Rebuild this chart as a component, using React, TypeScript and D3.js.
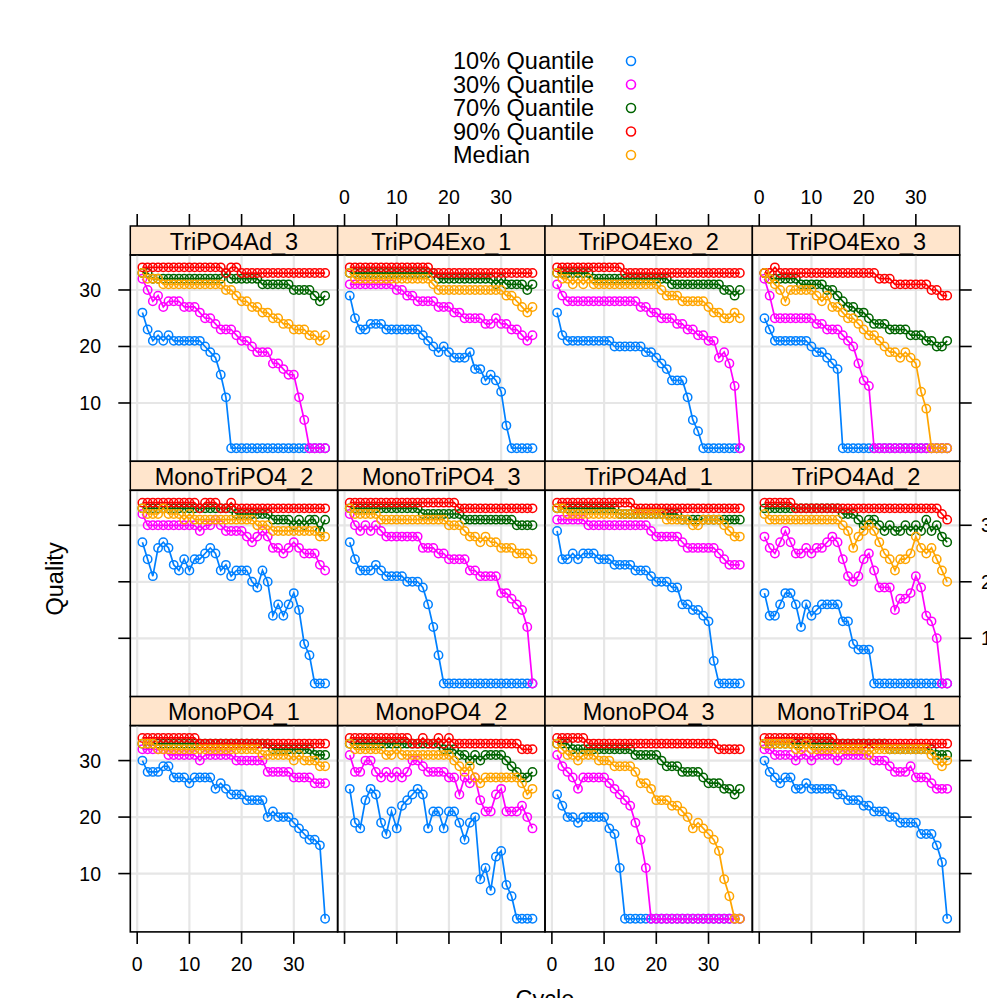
import React from "react";
import * as d3 from "d3";

// lattice xyplot: Quality by Cycle, one panel per sample, 5 quantile series each

const seriesNames = ["10% Quantile", "30% Quantile", "70% Quantile", "90% Quantile", "Median"];
const seriesColors = ["#0080ff", "#ff00ff", "darkgreen", "#ff0000", "orange"];
const xTicks = [0, 10, 20, 30];
const yTicks = [10, 20, 30];

// panels in display order (row by row, top to bottom)
const panelNames = [
  "TriPO4Ad_3", "TriPO4Exo_1", "TriPO4Exo_2", "TriPO4Exo_3",
  "MonoTriPO4_2", "MonoTriPO4_3", "TriPO4Ad_1", "TriPO4Ad_2",
  "MonoPO4_1", "MonoPO4_2", "MonoPO4_3", "MonoTriPO4_1",
];

// each panel: [q10, q30, q70, q90, median], values for cycles 1..36
const TriPO4Ad_3 = [
  [26,23,21,22,21,22,21,21,21,21,21,21,20,19,18,15,11,2,2,2,2,2,2,2,2,2,2,2,2,2,2,2,2,2,2,2],
  [32,30,28,29,27,28,28,28,27,27,27,26,25,25,24,23,23,23,22,21,21,20,19,19,19,17,17,16,15,15,11,7,2,2,2,2],
  [33,33,32,32,32,32,32,32,32,32,32,32,32,32,32,32,33,32,32,32,32,32,32,31,31,31,31,31,31,30,30,30,30,29,28,29],
  [34,34,34,34,34,34,34,34,34,34,34,34,34,34,34,34,33,34,34,33,33,33,33,33,33,33,33,33,33,33,33,33,33,33,33,33],
  [33,32,32,32,31,31,31,31,31,31,31,31,31,31,31,31,30,30,29,28,28,27,27,26,26,25,25,24,24,23,23,23,22,22,21,22],
];
const TriPO4Exo_1 = [
  [29,25,23,23,24,24,24,23,23,23,23,23,23,23,22,21,20,19,20,19,18,18,18,19,16,16,14,15,14,12,6,2,2,2,2,2],
  [31,31,31,31,31,31,31,31,31,30,30,29,29,28,28,28,28,27,27,27,26,26,25,25,25,25,24,24,25,24,24,23,23,22,21,22],
  [33,33,33,33,33,33,33,33,33,33,33,33,33,33,33,33,33,32,32,32,32,32,32,32,32,32,32,32,31,32,31,31,31,31,30,31],
  [34,34,34,34,34,34,34,34,34,34,34,34,34,34,34,34,33,33,33,33,33,33,33,33,33,33,33,33,33,33,33,33,33,33,33,33],
  [33,32,32,32,32,32,32,32,32,32,32,32,32,32,32,32,31,30,30,30,30,30,30,30,30,30,30,30,30,30,29,29,28,27,26,27],
];
const TriPO4Exo_2 = [
  [26,22,21,21,21,21,21,21,21,21,21,20,20,20,20,20,20,19,19,18,17,16,14,14,14,11,7,5,2,2,2,2,2,2,2,2],
  [31,29,28,28,28,28,28,28,28,28,28,28,28,28,28,28,27,27,26,26,25,25,25,24,24,23,23,22,22,21,21,18,19,17,13,2],
  [33,33,33,33,33,33,33,32,32,32,32,32,32,32,32,32,32,32,32,32,32,32,31,31,31,31,31,31,31,31,31,31,30,30,29,30],
  [34,34,34,34,34,34,34,34,34,34,34,34,34,33,33,33,33,33,33,33,33,33,33,33,33,33,33,33,33,33,33,33,33,33,33,33],
  [33,32,32,31,32,31,32,31,31,31,31,31,31,31,31,31,31,31,31,31,30,29,29,29,28,28,28,28,28,27,26,26,25,25,26,25],
];
const TriPO4Exo_3 = [
  [25,23,21,21,21,21,21,21,21,20,19,19,18,17,16,2,2,2,2,2,2,2,2,2,2,2,2,2,2,2,2,2,2,2,2,2],
  [32,29,25,25,25,25,25,25,25,25,24,24,23,23,23,22,21,20,17,14,13,2,2,2,2,2,2,2,2,2,2,2,2,2,2,2],
  [33,32,32,32,32,32,32,31,31,31,31,31,30,30,29,28,27,27,26,26,25,24,24,24,23,23,23,23,22,22,22,21,21,20,20,21],
  [33,33,34,33,33,33,33,33,33,33,33,33,33,33,33,33,33,33,33,33,33,33,32,32,32,31,31,31,31,31,31,31,30,30,29,29],
  [33,32,31,30,28,30,30,30,30,30,29,28,29,27,27,26,25,25,24,23,22,22,21,20,19,19,18,19,18,17,12,9,2,2,2,2],
];
const MonoTriPO4_2 = [
  [27,24,21,26,27,26,23,22,24,22,24,24,25,26,25,22,23,21,22,22,22,20,19,22,20,14,16,14,16,18,15,9,7,2,2,2],
  [32,30,30,30,30,30,30,30,30,30,30,29,30,30,31,30,29,29,29,29,28,27,28,29,28,26,26,25,26,27,26,25,25,25,23,22],
  [33,33,33,33,33,33,33,33,33,33,33,33,33,33,33,33,33,33,32,32,32,32,32,32,32,31,31,31,31,30,31,30,31,31,29,31],
  [34,34,34,34,34,34,34,34,34,34,34,33,34,34,34,33,33,34,33,33,33,33,33,33,33,33,33,33,33,33,33,33,33,33,33,33],
  [33,32,32,32,33,32,32,32,31,32,31,31,31,31,31,31,31,31,31,31,31,31,30,30,30,29,29,29,29,29,29,29,29,29,28,28],
];
const MonoTriPO4_3 = [
  [27,24,22,22,22,23,22,21,21,21,21,20,20,20,19,16,12,7,2,2,2,2,2,2,2,2,2,2,2,2,2,2,2,2,2,2],
  [32,30,29,30,29,30,29,28,28,28,28,28,28,28,26,26,26,25,25,24,24,24,24,22,22,21,21,21,21,18,18,17,16,15,12,2],
  [33,33,33,33,33,33,33,33,33,33,33,33,33,33,32,32,32,32,32,32,32,32,31,31,31,31,31,31,31,31,31,31,30,30,30,30],
  [34,34,34,34,34,34,34,34,34,34,34,34,34,34,34,34,34,34,34,34,34,33,33,33,33,33,33,33,33,33,33,33,33,33,33,33],
  [33,32,32,32,32,32,31,31,31,31,31,31,31,31,31,31,31,31,31,30,30,30,29,28,28,27,28,27,27,26,26,26,25,25,25,24],
];
const TriPO4Ad_1 = [
  [29,24,24,25,24,25,25,25,24,24,24,23,23,23,23,22,22,22,21,20,20,20,19,19,16,16,15,15,14,13,6,2,2,2,2,2],
  [31,31,31,31,31,31,30,30,30,30,30,30,30,30,30,30,30,30,29,28,28,28,28,28,27,26,26,26,26,26,26,25,24,23,23,23],
  [33,33,33,33,33,33,33,33,33,33,33,33,32,32,32,32,32,32,32,32,32,32,32,32,31,31,31,31,31,31,31,31,31,31,31,31],
  [34,34,34,34,34,34,34,34,34,34,34,34,34,34,34,33,33,33,33,33,33,33,33,33,33,33,33,33,33,33,33,33,33,33,33,33],
  [33,33,32,32,32,32,32,32,32,32,32,32,32,32,32,32,32,32,32,32,32,31,31,31,31,31,30,30,31,31,31,31,30,29,28,28],
];
const TriPO4Ad_2 = [
  [18,14,14,16,18,18,16,12,16,14,15,16,16,16,16,13,13,9,8,8,8,2,2,2,2,2,2,2,2,2,2,2,2,2,2,2],
  [28,26,25,27,29,27,25,25,26,25,26,26,27,28,27,24,21,20,21,24,25,22,19,19,19,15,17,17,18,21,19,14,13,10,2,2],
  [33,33,33,33,33,33,33,33,33,33,33,33,33,33,33,32,32,32,31,30,31,31,30,29,30,29,29,30,29,30,29,31,29,30,28,27],
  [34,34,34,34,34,34,33,33,33,33,33,33,33,33,33,33,33,33,33,33,33,33,33,33,33,33,33,33,33,33,33,33,33,33,32,31],
  [32,31,31,31,31,31,31,31,31,31,31,31,31,31,31,30,29,26,28,29,30,29,27,25,24,22,24,24,25,28,26,25,26,24,22,20],
];
const MonoPO4_1 = [
  [30,28,28,28,29,29,27,27,27,26,27,27,27,27,25,26,25,24,24,24,23,23,23,23,20,21,20,20,20,19,18,17,16,16,15,2],
  [32,32,32,32,32,31,31,31,31,31,31,30,31,31,31,31,31,31,30,30,30,30,30,30,28,28,28,28,28,27,27,27,27,26,26,26],
  [33,33,33,33,33,33,33,33,33,33,33,33,33,33,33,33,33,33,33,33,33,33,33,33,33,32,32,32,32,32,32,32,32,31,31,31],
  [34,34,34,34,34,34,34,34,34,34,34,33,33,33,33,33,33,33,33,33,33,33,33,33,33,33,33,33,33,33,33,33,33,33,33,33],
  [33,33,33,32,32,32,32,32,32,32,32,32,32,32,32,32,32,32,32,32,32,32,32,31,31,31,31,31,31,30,31,30,30,30,29,29],
];
const MonoPO4_2 = [
  [25,19,18,23,25,24,19,17,21,18,22,23,24,25,24,18,21,21,18,21,21,19,16,19,20,9,11,7,13,14,8,6,2,2,2,2],
  [31,28,28,30,30,28,27,28,27,28,27,28,30,30,29,28,28,28,28,27,27,24,27,26,27,23,21,21,24,25,21,21,21,22,20,18],
  [33,33,33,33,33,33,33,33,33,33,33,33,33,33,33,33,33,33,32,32,32,31,31,30,31,30,31,31,31,31,30,29,28,27,27,28],
  [34,34,34,34,34,34,34,34,34,34,34,34,33,33,34,33,33,34,33,34,33,33,33,33,33,33,33,33,33,33,33,33,33,32,32,32],
  [33,32,32,32,32,32,32,31,31,32,31,31,31,31,31,31,31,31,31,31,30,29,28,29,27,26,27,27,27,27,27,27,27,26,24,25],
];
const MonoPO4_3 = [
  [24,22,20,20,19,20,20,20,20,20,18,17,11,2,2,2,2,2,2,2,2,2,2,2,2,2,2,2,2,2,2,2,2,2,2,2],
  [31,29,28,27,25,27,27,27,27,27,26,25,24,23,22,19,16,11,2,2,2,2,2,2,2,2,2,2,2,2,2,2,2,2,2,2],
  [33,33,33,32,32,32,32,32,32,32,32,32,32,32,32,31,31,31,31,31,30,29,29,29,28,28,28,28,27,26,26,26,25,25,24,25],
  [34,34,34,34,34,34,33,33,33,33,33,33,33,33,33,33,33,33,33,33,33,33,33,33,33,33,33,33,33,33,33,32,32,32,32,32],
  [33,32,31,31,30,31,31,31,30,30,30,29,29,29,29,28,26,26,25,23,23,23,22,22,21,20,18,19,18,17,16,14,9,6,2,2],
];
const MonoTriPO4_1 = [
  [30,28,27,26,27,27,25,25,26,25,25,25,25,25,24,24,23,23,23,22,22,21,21,21,20,20,19,19,19,19,17,17,17,15,12,2],
  [32,32,31,31,31,31,30,31,31,30,31,31,31,31,30,31,31,31,31,31,31,30,30,30,29,28,28,28,29,27,27,27,26,25,25,25],
  [33,33,33,33,33,33,33,33,33,33,33,33,33,33,33,33,33,33,33,33,33,33,33,33,32,32,32,32,32,32,32,32,32,31,31,31],
  [34,34,34,34,34,34,34,34,34,34,34,34,34,34,33,33,33,33,33,33,33,33,33,33,33,33,33,33,33,33,33,33,33,33,33,33],
  [33,33,33,33,33,33,32,32,33,32,32,32,32,32,32,32,32,32,32,32,31,32,32,32,32,32,32,32,32,32,32,32,31,30,29,30],
];

const panelData = [
  TriPO4Ad_3, TriPO4Exo_1, TriPO4Exo_2, TriPO4Exo_3,
  MonoTriPO4_2, MonoTriPO4_3, TriPO4Ad_1, TriPO4Ad_2,
  MonoPO4_1, MonoPO4_2, MonoPO4_3, MonoTriPO4_1,
];

const W = 987;
const H = 998;
const font = "'Liberation Sans', Arial, Helvetica, sans-serif";

const left = 130.3;
const right = 959.7;
const top0 = 226;
const stripH = 29;
const panelH = 206.3;
const rowStep = stripH + panelH;
const ncol = 4;
const nrow = 3;

const col = d3.scaleBand<number>().domain(d3.range(ncol)).range([left, right]);
const panelW = col.bandwidth();

const x = d3.scaleLinear().domain([-1.32, 38.4]).range([0, panelW]);
const y = d3.scaleLinear().domain([-0.32, 36.19]).range([panelH, 0]);

const line = d3
  .line<number>()
  .x((_, i) => x(i + 1))
  .y((d) => y(d));

function Panel({ idx }: { idx: number }) {
  const c = idx % ncol;
  const r = Math.floor(idx / ncol);
  const px = col(c) as number;
  const stripTop = top0 + r * rowStep;
  const py = stripTop + stripH;
  const series = panelData[idx];
  return (
    <g>
      <rect x={px} y={stripTop} width={panelW} height={stripH} fill="#ffe5cc" stroke="#000" strokeWidth={1.5} />
      <text
        x={px + panelW / 2}
        y={stripTop + stripH / 2 + 1}
        textAnchor="middle"
        dominantBaseline="central"
        fontSize={23.5}
        fontFamily={font}
      >
        {panelNames[idx]}
      </text>
      <g transform={`translate(${px},${py})`}>
        {xTicks.map((t) => (
          <line key={"gx" + t} x1={x(t)} x2={x(t)} y1={0} y2={panelH} stroke="#e6e6e6" strokeWidth={2.2} />
        ))}
        {yTicks.map((t) => (
          <line key={"gy" + t} x1={0} x2={panelW} y1={y(t)} y2={y(t)} stroke="#e6e6e6" strokeWidth={2.2} />
        ))}
        {series.map((vals, s) => (
          <g key={s}>
            <path d={line(vals) || ""} fill="none" stroke={seriesColors[s]} strokeWidth={1.7} />
            {vals.map((v, i) => (
              <circle key={i} cx={x(i + 1)} cy={y(v)} r={4.2} fill="none" stroke={seriesColors[s]} strokeWidth={1.5} />
            ))}
          </g>
        ))}
        <rect x={0} y={0} width={panelW} height={panelH} fill="none" stroke="#000" strokeWidth={1.6} />
      </g>
    </g>
  );
}

function Axes() {
  const els: React.ReactNode[] = [];
  const bottom = top0 + nrow * rowStep;
  for (let c = 0; c < ncol; c++) {
    const px = col(c) as number;
    xTicks.forEach((t) => {
      const tx = px + x(t);
      els.push(<line key={`tt${c}-${t}`} x1={tx} x2={tx} y1={top0} y2={top0 - 12} stroke="#000" strokeWidth={1.6} />);
      els.push(<line key={`bt${c}-${t}`} x1={tx} x2={tx} y1={bottom} y2={bottom + 12} stroke="#000" strokeWidth={1.6} />);
      if (c % 2 === 1) {
        els.push(
          <text key={`tl${c}-${t}`} x={tx} y={197} textAnchor="middle" dominantBaseline="central" fontSize={19.5} fontFamily={font}>
            {t}
          </text>
        );
      } else {
        els.push(
          <text key={`bl${c}-${t}`} x={tx} y={964} textAnchor="middle" dominantBaseline="central" fontSize={19.5} fontFamily={font}>
            {t}
          </text>
        );
      }
    });
  }
  for (let r = 0; r < nrow; r++) {
    const py = top0 + r * rowStep + stripH;
    yTicks.forEach((t) => {
      const ty = py + y(t);
      els.push(<line key={`lt${r}-${t}`} x1={left} x2={left - 12} y1={ty} y2={ty} stroke="#000" strokeWidth={1.6} />);
      els.push(<line key={`rt${r}-${t}`} x1={right} x2={right + 12} y1={ty} y2={ty} stroke="#000" strokeWidth={1.6} />);
      if (r % 2 === 0) {
        els.push(
          <text key={`ll${r}-${t}`} x={101} y={ty} textAnchor="end" dominantBaseline="central" fontSize={19.5} fontFamily={font}>
            {t}
          </text>
        );
      } else {
        els.push(
          <text key={`rl${r}-${t}`} x={981} y={ty} textAnchor="start" dominantBaseline="central" fontSize={19.5} fontFamily={font}>
            {t}
          </text>
        );
      }
    });
  }
  return <g>{els}</g>;
}

function Legend() {
  return (
    <g>
      {seriesNames.map((name, i) => (
        <g key={name}>
          <text x={453} y={61 + i * 23.5} dominantBaseline="central" fontSize={23.5} fontFamily={font}>
            {name}
          </text>
          <circle cx={631} cy={61 + i * 23.5} r={4.5} fill="none" stroke={seriesColors[i]} strokeWidth={1.6} />
        </g>
      ))}
    </g>
  );
}

export default function App() {
  return (
    <svg
      width={W}
      height={H}
      viewBox={`0 0 ${W} ${H}`}
      style={{ position: "absolute", left: 0, top: 0, background: "#fff" }}
    >
      <rect width={W} height={H} fill="#fff" />
      <Legend />
      {panelNames.map((_, i) => (
        <Panel key={i} idx={i} />
      ))}
      <Axes />
      <text
        transform={`translate(55,${top0 + (nrow * rowStep) / 2}) rotate(-90)`}
        textAnchor="middle"
        dominantBaseline="central"
        fontSize={23.5}
        fontFamily={font}
      >
        Quality
      </text>
      <text x={545} y={1007} textAnchor="middle" fontSize={23.5} fontFamily={font}>
        Cycle
      </text>
    </svg>
  );
}
